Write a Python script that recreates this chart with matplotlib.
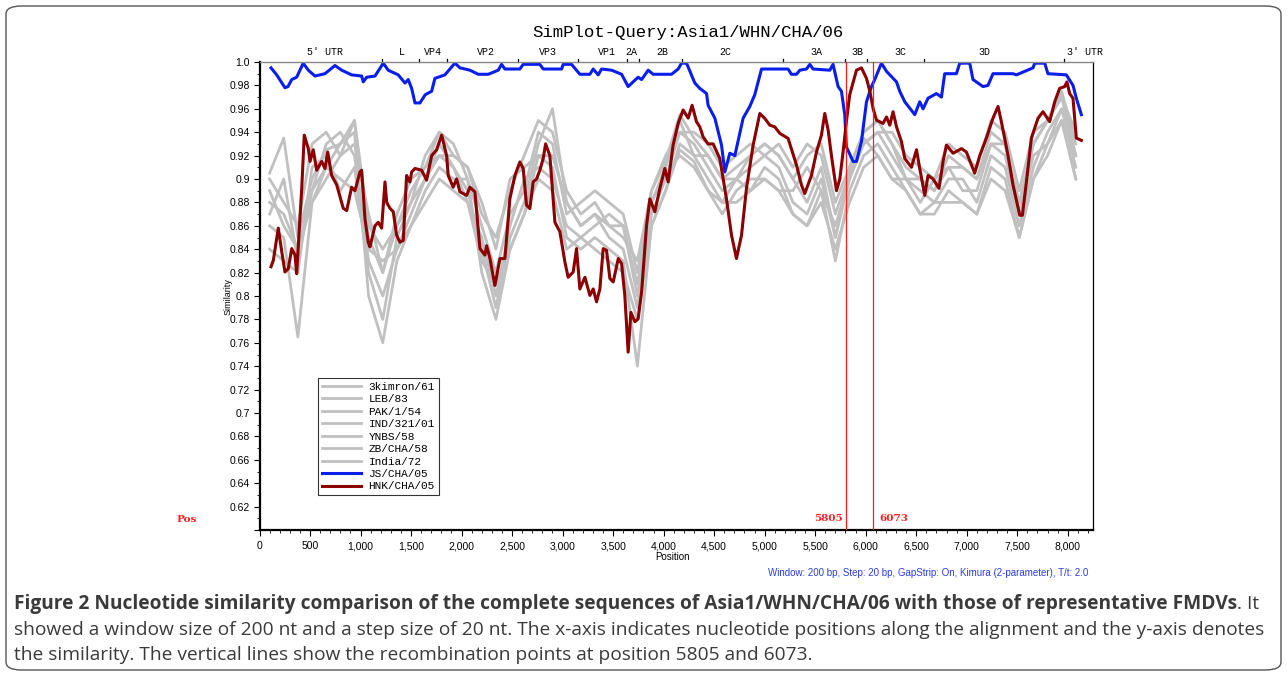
import matplotlib
matplotlib.use("Agg")
import matplotlib.pyplot as plt
from matplotlib.patches import FancyBboxPatch
from matplotlib.ticker import MultipleLocator, FuncFormatter

# ---------------- data ----------------
blue_pos = [114, 170, 252, 282, 319, 368, 433, 483, 549, 648, 747, 813, 912, 1011, 1027, 1061, 1143,
            1225, 1274, 1373, 1440, 1472, 1506, 1539, 1588, 1640, 1704, 1736, 1835, 1934, 1984, 2083,
            2165, 2264, 2363, 2396, 2429, 2577, 2610, 2775, 2808, 2990, 3006, 3089, 3171, 3270, 3303,
            3352, 3386, 3485, 3584, 3649, 3698, 3748, 3782, 3847, 3896, 4078, 4144, 4177, 4227, 4309,
            4358, 4425, 4440, 4507, 4573, 4606, 4655, 4705, 4787, 4853, 4902, 4969, 5232, 5265, 5315,
            5348, 5414, 5447, 5479, 5645, 5677, 5727, 5760, 5793, 5809, 5875, 5909, 5958, 6008, 6057,
            6090, 6156, 6206, 6305, 6337, 6387, 6486, 6535, 6568, 6617, 6700, 6750, 6782, 6898, 6931,
            7030, 7062, 7161, 7211, 7260, 7458, 7492, 7656, 7673, 7772, 7804, 7986, 8052, 8085, 8135]
blue_sim = [0.995, 0.989, 0.978, 0.979, 0.985, 0.987, 0.999, 0.993, 0.988, 0.990, 0.997, 0.993, 0.989,
            0.988, 0.983, 0.987, 0.988, 0.999, 0.993, 0.989, 0.982, 0.985, 0.9775, 0.965, 0.965, 0.972,
            0.975, 0.986, 0.989, 0.999, 0.995, 0.993, 0.9895, 0.9895, 0.993, 0.998, 0.994, 0.994, 0.998,
            0.998, 0.994, 0.994, 0.998, 0.998, 0.9895, 0.9895, 0.994, 0.989, 0.994, 0.993, 0.9895, 0.979,
            0.983, 0.987, 0.985, 0.993, 0.9895, 0.9895, 0.994, 0.999, 0.999, 0.982, 0.9775, 0.973, 0.963,
            0.952, 0.929, 0.906, 0.922, 0.920, 0.952, 0.962, 0.972, 0.994, 0.994, 0.9895, 0.9895, 0.993,
            0.994, 0.998, 0.994, 0.993, 0.998, 0.979, 0.975, 0.955, 0.9275, 0.915, 0.915, 0.932, 0.966,
            0.979, 0.985, 0.999, 0.992, 0.983, 0.975, 0.966, 0.955, 0.966, 0.960, 0.969, 0.973, 0.970,
            0.990, 0.990, 0.999, 0.999, 0.985, 0.979, 0.980, 0.990, 0.990, 0.989, 0.995, 0.999, 0.999,
            0.990, 0.989, 0.980, 0.969, 0.955]

red_pos = [114, 137, 186, 220, 252, 285, 319, 351, 368, 418, 443, 483, 500, 532, 566, 615, 648, 675,
           714, 764, 829, 863, 912, 945, 994, 1011, 1044, 1076, 1093, 1143, 1175, 1209, 1242, 1259,
           1291, 1324, 1357, 1390, 1423, 1456, 1489, 1506, 1539, 1605, 1654, 1704, 1753, 1803, 1852,
           1868, 1917, 1951, 1984, 2050, 2083, 2132, 2182, 2231, 2248, 2281, 2330, 2380, 2429, 2478,
           2528, 2577, 2610, 2643, 2676, 2709, 2742, 2775, 2808, 2832, 2874, 2924, 2973, 3023, 3055,
           3105, 3138, 3171, 3221, 3270, 3303, 3336, 3369, 3402, 3435, 3468, 3501, 3551, 3584, 3616,
           3649, 3676, 3716, 3748, 3782, 3831, 3864, 3913, 3963, 4012, 4045, 4094, 4144, 4193, 4243,
           4282, 4325, 4358, 4391, 4440, 4490, 4556, 4622, 4672, 4721, 4771, 4820, 4886, 4952, 5001,
           5051, 5100, 5150, 5232, 5315, 5364, 5397, 5463, 5513, 5562, 5595, 5628, 5661, 5711, 5744,
           5776, 5809, 5842, 5909, 5958, 6008, 6041, 6074, 6107, 6172, 6206, 6239, 6271, 6305, 6354,
           6387, 6453, 6503, 6535, 6585, 6617, 6667, 6726, 6766, 6799, 6865, 6948, 6997, 7079, 7129,
           7195, 7260, 7310, 7343, 7409, 7458, 7525, 7551, 7591, 7640, 7706, 7755, 7821, 7871, 7920,
           7970, 7992, 8019, 8052, 8085, 8135]
red_sim = [0.825, 0.8305, 0.858, 0.838, 0.8205, 0.8234, 0.8405, 0.835, 0.819, 0.892, 0.9375, 0.926,
           0.915, 0.925, 0.9075, 0.915, 0.909, 0.923, 0.903, 0.895, 0.875, 0.873, 0.893, 0.890, 0.906,
           0.9075, 0.866, 0.846, 0.842, 0.860, 0.863, 0.858, 0.8975, 0.880, 0.875, 0.872, 0.852, 0.846,
           0.8476, 0.903, 0.8975, 0.906, 0.909, 0.9075, 0.899, 0.920, 0.925, 0.9375, 0.920, 0.903,
           0.893, 0.900, 0.889, 0.886, 0.893, 0.889, 0.8405, 0.835, 0.843, 0.832, 0.809, 0.832, 0.832,
           0.883, 0.903, 0.9146, 0.909, 0.8776, 0.8747, 0.8975, 0.900, 0.9075, 0.9175, 0.930, 0.920,
           0.863, 0.855, 0.829, 0.816, 0.8205, 0.8405, 0.806, 0.816, 0.8005, 0.806, 0.795, 0.806,
           0.8405, 0.839, 0.815, 0.812, 0.832, 0.8276, 0.8005, 0.752, 0.786, 0.778, 0.7805, 0.8034,
           0.8604, 0.883, 0.872, 0.892, 0.909, 0.8975, 0.929, 0.9475, 0.959, 0.952, 0.963, 0.949,
           0.9446, 0.936, 0.930, 0.930, 0.9175, 0.883, 0.852, 0.832, 0.852, 0.892, 0.929, 0.956,
           0.9518, 0.946, 0.9446, 0.939, 0.9347, 0.912, 0.895, 0.8876, 0.903, 0.923, 0.9375, 0.956,
           0.942, 0.920, 0.890, 0.900, 0.923, 0.949, 0.972, 0.993, 0.995, 0.986, 0.975, 0.960, 0.9503,
           0.9475, 0.953, 0.946, 0.9575, 0.9446, 0.932, 0.9175, 0.910, 0.925, 0.909, 0.886, 0.903,
           0.900, 0.892, 0.915, 0.929, 0.922, 0.926, 0.923, 0.905, 0.920, 0.935, 0.952, 0.962, 0.949,
           0.920, 0.895, 0.869, 0.869, 0.8975, 0.935, 0.952, 0.9575, 0.949, 0.966, 0.9775, 0.979,
           0.983, 0.973, 0.969, 0.935, 0.933]

gray_pos = [100, 240, 380, 520, 660, 800, 940, 1080, 1220, 1360, 1500, 1640, 1780, 1920, 2060, 2200,
            2340, 2480, 2620, 2760, 2900, 3040, 3180, 3320, 3460, 3600, 3740, 3880, 4020, 4160, 4300,
            4440, 4580, 4720, 4860, 5000, 5140, 5280, 5420, 5560, 5700, 5840, 5980, 6120, 6260, 6400,
            6540, 6680, 6820, 6960, 7100, 7240, 7380, 7520, 7660, 7800, 7940, 8080]
g_3kimron = [0.905, 0.935, 0.85, 0.90, 0.925, 0.93, 0.95, 0.86, 0.84, 0.86, 0.89, 0.91, 0.94, 0.92, 0.91,
             0.87, 0.85, 0.89, 0.92, 0.95, 0.94, 0.89, 0.87, 0.88, 0.86, 0.85, 0.83, 0.89, 0.915, 0.955,
             0.935, 0.92, 0.90, 0.91, 0.92, 0.93, 0.92, 0.90, 0.92, 0.93, 0.88, 0.91, 0.94, 0.95, 0.93,
             0.91, 0.90, 0.89, 0.92, 0.91, 0.90, 0.94, 0.93, 0.88, 0.93, 0.95, 0.975, 0.93]
g_leb = [0.88, 0.87, 0.84, 0.89, 0.93, 0.94, 0.92, 0.83, 0.80, 0.84, 0.87, 0.90, 0.92, 0.91, 0.89, 0.84,
         0.79, 0.85, 0.88, 0.93, 0.96, 0.88, 0.86, 0.87, 0.85, 0.84, 0.79, 0.87, 0.90, 0.94, 0.93, 0.91,
         0.89, 0.90, 0.91, 0.92, 0.91, 0.88, 0.87, 0.90, 0.85, 0.90, 0.93, 0.94, 0.92, 0.90, 0.89, 0.88,
         0.90, 0.90, 0.88, 0.92, 0.91, 0.86, 0.91, 0.94, 0.96, 0.92]
g_pak = [0.86, 0.85, 0.765, 0.88, 0.91, 0.93, 0.94, 0.80, 0.76, 0.83, 0.86, 0.89, 0.91, 0.90, 0.90, 0.82,
         0.78, 0.84, 0.87, 0.92, 0.91, 0.85, 0.84, 0.85, 0.84, 0.83, 0.74, 0.86, 0.89, 0.93, 0.92, 0.90,
         0.88, 0.88, 0.89, 0.91, 0.90, 0.87, 0.86, 0.89, 0.83, 0.89, 0.92, 0.93, 0.91, 0.89, 0.87, 0.87,
         0.89, 0.88, 0.87, 0.91, 0.90, 0.85, 0.90, 0.93, 0.95, 0.90]
g_ind = [0.84, 0.83, 0.82, 0.91, 0.92, 0.89, 0.91, 0.82, 0.78, 0.85, 0.88, 0.90, 0.93, 0.91, 0.88, 0.85,
         0.80, 0.86, 0.90, 0.91, 0.90, 0.86, 0.85, 0.86, 0.87, 0.86, 0.80, 0.88, 0.905, 0.92, 0.91, 0.89,
         0.87, 0.89, 0.90, 0.90, 0.89, 0.89, 0.91, 0.89, 0.86, 0.90, 0.935, 0.92, 0.90, 0.90, 0.88, 0.90,
         0.91, 0.89, 0.89, 0.93, 0.92, 0.87, 0.92, 0.93, 0.96, 0.91]
g_ynbs = [0.89, 0.86, 0.84, 0.88, 0.90, 0.92, 0.93, 0.87, 0.82, 0.86, 0.88, 0.92, 0.94, 0.93, 0.90, 0.86,
          0.82, 0.87, 0.89, 0.94, 0.93, 0.87, 0.88, 0.89, 0.88, 0.87, 0.82, 0.89, 0.92, 0.94, 0.94, 0.93,
          0.91, 0.92, 0.93, 0.92, 0.93, 0.91, 0.93, 0.92, 0.87, 0.905, 0.93, 0.94, 0.94, 0.92, 0.91, 0.90,
          0.93, 0.92, 0.91, 0.95, 0.94, 0.89, 0.94, 0.95, 0.97, 0.94]
g_zb = [0.87, 0.90, 0.83, 0.89, 0.91, 0.90, 0.89, 0.84, 0.83, 0.84, 0.86, 0.88, 0.90, 0.89, 0.88, 0.83,
        0.81, 0.84, 0.87, 0.90, 0.89, 0.84, 0.85, 0.84, 0.83, 0.82, 0.78, 0.86, 0.89, 0.925, 0.915, 0.89,
        0.88, 0.90, 0.89, 0.90, 0.89, 0.87, 0.86, 0.88, 0.84, 0.88, 0.91, 0.92, 0.90, 0.89, 0.87, 0.88,
        0.88, 0.88, 0.87, 0.90, 0.89, 0.85, 0.90, 0.92, 0.95, 0.90]
g_india = [0.90, 0.88, 0.86, 0.93, 0.94, 0.92, 0.95, 0.85, 0.82, 0.87, 0.90, 0.91, 0.92, 0.92, 0.91, 0.88,
           0.84, 0.90, 0.91, 0.92, 0.92, 0.88, 0.86, 0.87, 0.86, 0.86, 0.81, 0.88, 0.91, 0.95, 0.92, 0.92,
           0.90, 0.90, 0.92, 0.93, 0.92, 0.90, 0.88, 0.91, 0.85, 0.91, 0.94, 0.95, 0.93, 0.90, 0.90, 0.89,
           0.91, 0.91, 0.90, 0.93, 0.93, 0.87, 0.93, 0.95, 0.97, 0.92]

gray_names = ["3kimron/61", "LEB/83", "PAK/1/54", "IND/321/01", "YNBS/58", "ZB/CHA/58", "India/72"]
gray_series = [g_3kimron, g_leb, g_pak, g_ind, g_ynbs, g_zb, g_india]

gene_names = ["5' UTR", "L", "VP4", "VP2", "VP3", "VP1", "2A", "2B", "2C", "3A", "3B", "3C", "3D", "3' UTR"]
gene_label_pos = [650, 1410, 1716, 2241, 2855, 3437, 3685, 3991, 4614, 5516, 5922, 6348, 7178, 8167]
gene_bounds = [1209, 1578, 1855, 2557, 3151, 3633, 3757, 4180, 5180, 5794, 6012, 6575, 7960]

breakpoints = [5805, 6073]

caption_bold = ("Figure 2 Nucleotide similarity comparison of the complete sequences of "
                "Asia1/WHN/CHA/06 with those of representative FMDVs")
caption_lines = [
    ". It",
    "showed a window size of 200 nt and a step size of 20 nt. The x-axis indicates nucleotide "
    "positions along the alignment and the y-axis denotes",
    "the similarity. The vertical lines show the recombination points at position 5805 and 6073.",
]

# ---------------- figure ----------------
W, H = 1287, 676
fig = plt.figure(figsize=(W / 100, H / 100), dpi=100)
fig.patch.set_facecolor("white")

frame = FancyBboxPatch((6 / W, 6 / H), (W - 12) / W, (H - 12) / H,
                       boxstyle="round,pad=0,rounding_size=0.012",
                       transform=fig.transFigure, fill=False, ec="#555555", lw=1.0)
fig.patches.append(frame)

ax = fig.add_axes([259.5 / W, 1 - 530 / H, (1093 - 259.5) / W, (530 - 62) / H])
ax.set_xlim(0, 8250)
ax.set_ylim(0.6, 1.0)

sans = "Liberation Sans"
mono = "Liberation Mono"

for name, vals in zip(gray_names, gray_series):
    n = min(len(vals), len(gray_pos))
    ax.plot(gray_pos[:n], vals[:n], color="#c0c0c0", lw=2.0, label=name)
ax.plot(blue_pos, blue_sim, color="#0a1eeb", lw=2.2, label="JS/CHA/05")
ax.plot(red_pos, red_sim, color="#8b0000", lw=2.2, label="HNK/CHA/05")

for bp in breakpoints:
    ax.axvline(bp, color="#ff1a1a", lw=0.9, zorder=5)

ax.text(breakpoints[0] - 35, 0.6095, str(breakpoints[0]), color="#ff2020", fontsize=7.5,
        fontweight="bold", family="DejaVu Serif", ha="right", va="center")
ax.text(breakpoints[1] + 65, 0.6095, str(breakpoints[1]), color="#ff2020", fontsize=7.5,
        fontweight="bold", family="DejaVu Serif", ha="left", va="center")

ax.spines["left"].set_linewidth(1.6)
ax.spines["bottom"].set_linewidth(1.6)
ax.spines["top"].set_color("#888888")
ax.spines["top"].set_linewidth(1.0)
ax.spines["right"].set_linewidth(0.9)

ax.yaxis.set_major_locator(MultipleLocator(0.02))
ax.yaxis.set_minor_locator(MultipleLocator(0.01))
ax.xaxis.set_major_locator(MultipleLocator(500))
ax.xaxis.set_minor_locator(MultipleLocator(100))


def yfmt(v, _):
    if v < 0.61:
        return ""
    if abs(v - 1.0) < 1e-9:
        return "1.0"
    return f"{v:.2f}".rstrip("0")


ax.yaxis.set_major_formatter(FuncFormatter(yfmt))
ax.xaxis.set_major_formatter(FuncFormatter(lambda v, _: f"{int(round(v)):,}"))
ax.tick_params(axis="both", which="major", labelsize=7.5, length=4, width=0.8, direction="out")
ax.tick_params(axis="both", which="minor", length=2, width=0.6, direction="out")
for lab in ax.get_xticklabels() + ax.get_yticklabels():
    lab.set_family(sans)
ax.tick_params(axis="x", pad=4)
ax.tick_params(axis="y", pad=3)

for gx in gene_bounds:
    ax.plot([gx, gx], [1.0, 1.0025], color="black", lw=0.9, clip_on=False)
for gname, gx in zip(gene_names, gene_label_pos):
    ax.text(gx, 1.0045, gname, fontsize=7.2, family=mono, ha="center", va="bottom")

leg = ax.legend(loc="upper left", bbox_to_anchor=(0.0702, 0.3248), borderaxespad=0,
                prop={"family": mono, "size": 8.0}, frameon=True, fancybox=False,
                handlelength=3.5, handletextpad=0.7, labelspacing=0.22, borderpad=0.35)
leg.get_frame().set_edgecolor("black")
leg.get_frame().set_linewidth(0.8)

fig.text(688 / W, 1 - 32 / H, "SimPlot-Query:Asia1/WHN/CHA/06", fontsize=12.5, family=mono,
         ha="center", va="center")
fig.text(228 / W, 1 - 297 / H, "Similarity", fontsize=6.5, family=sans, rotation=90,
         ha="center", va="center")
fig.text(673 / W, 1 - 557 / H, "Position", fontsize=7, family=sans, ha="center", va="center")
fig.text(176 / W, 1 - 519 / H, "Pos", fontsize=7.5, family="DejaVu Serif", fontweight="bold",
         color="#ff2020", ha="left", va="center")
fig.text(1088 / W, 1 - 573 / H,
         "Window: 200 bp, Step: 20 bp, GapStrip: On, Kimura (2-parameter), T/t: 2.0",
         fontsize=7, family=sans, color="#2a3cf0", ha="right", va="center")

# caption, sized so the lines span the same width as the reference
cap_font = "Open Sans"
cap_color = "#3a3a3a"
x0 = 14 / W
renderer = fig.canvas.get_renderer()
probe = fig.text(x0, 0.5, caption_lines[1], fontsize=12, family=cap_font)
w_probe = probe.get_window_extent(renderer=renderer).width
probe.remove()
cap_size = 12 * (1260 - 14) / w_probe

probe = fig.text(x0, 0.5, caption_bold, fontsize=cap_size, family=cap_font, fontweight="bold")
w_bold = probe.get_window_extent(renderer=renderer).width
probe.remove()
bold_size = cap_size * min(1.0, (1253 - 14) / w_bold)

t1 = fig.text(x0, 1 - 604 / H, caption_bold, fontsize=bold_size, family=cap_font,
              fontweight="bold", color=cap_color, ha="left", va="center")
bb = t1.get_window_extent(renderer=renderer)
fig.text(bb.x1 / W, 1 - 604 / H, caption_lines[0], fontsize=cap_size, family=cap_font,
         color=cap_color, ha="left", va="center")
fig.text(x0, 1 - 630 / H, caption_lines[1], fontsize=cap_size, family=cap_font, color=cap_color,
         ha="left", va="center")
fig.text(x0, 1 - 655 / H, caption_lines[2], fontsize=cap_size, family=cap_font, color=cap_color,
         ha="left", va="center")

fig.savefig("out.png", dpi=100, facecolor="white")
